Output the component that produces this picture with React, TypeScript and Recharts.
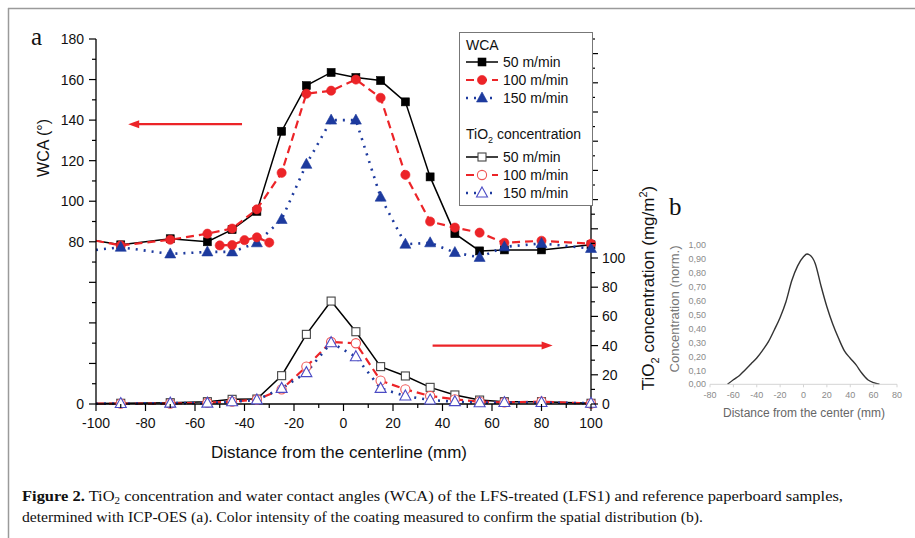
import React from 'react';
import { ComposedChart, LineChart, Line, XAxis, YAxis, Legend, ReferenceLine } from 'recharts';

// panel a: sample positions across the web (mm)
const distance = [-100, -90, -70, -55, -45, -35, -25, -15, -5, 5, 15, 25, 35, 45, 55, 65, 80, 100];

// water contact angle (deg), left axis
const wca50 = [80.5, 78.5, 81.5, 80, 86, 95, 134.5, 157, 163.5, 161, 159.5, 149, 112, 84, 75.5, 76, 76, 78.5];
const wca100 = [80.5, 78.2, 81, 84, 86.5, 96, 114, 153, 154.5, 160, 151, 113, 90, 87, 84.5, 79.5, 80.5, 79];
const wca150 = [76, 77.3, 74, 75, 75, 79.5, 91, 118.2, 140, 140, 102, 78.8, 79.5, 74.7, 72.3, 77.5, 79.2, 76.7];

// second 100 m/min run near the left edge
const repeatDistance = [-50, -45, -40, -35, -30];
const wca100Repeat = [78.2, 78.4, 80.8, 82.2, 79.6];

// TiO2 concentration (mg/m2), right axis
const tio50 = [0.3, 0.5, 0.9, 1.6, 3.2, 3.4, 19.4, 47.7, 70.5, 49.5, 25.6, 19.2, 11.4, 6.2, 2.7, 1.6, 1.6, 0.5];
const tio100 = [0.2, 0.3, 0.3, 0.9, 1.6, 3, 10, 25.6, 42.5, 41.6, 16, 10, 5.5, 3.2, 1.6, 1.1, 1.6, 0.3];
const tio150 = [0.2, 0.3, 0.6, 0.6, 1.5, 2.8, 10.7, 21.5, 42, 32.4, 10.7, 5.5, 2.7, 1.6, 0.9, 1, 1, 0.5];

// panel b: normalised colour intensity
const bDistance = [-65, -60, -55, -50, -45, -40, -35, -30, -25, -20, -15, -10, -5, 0, 3, 5, 10, 15, 20, 25, 30, 35, 40, 45, 50, 55, 60, 65];
const bConcentration = [0, 0.033, 0.062, 0.103, 0.146, 0.189, 0.244, 0.306, 0.39, 0.48, 0.593, 0.745, 0.85, 0.915, 0.935, 0.93, 0.868, 0.706, 0.557, 0.433, 0.33, 0.24, 0.187, 0.139, 0.079, 0.033, 0.012, 0];

const xTicks = [-100, -90, -80, -70, -60, -50, -40, -30, -20, -10, 0, 10, 20, 30, 40, 50, 60, 70, 80, 90, 100];
const wcaTicks = [0, 10, 20, 30, 40, 50, 60, 70, 80, 90, 100, 110, 120, 130, 140, 150, 160, 170, 180];
const tioTicks = [0, 10, 20, 30, 40, 50, 60, 70, 80, 90, 100, 110, 120, 130, 140, 150, 160, 170, 180, 190, 200, 210, 220, 230, 240, 250];
const bXTicks = [-80, -60, -40, -20, 0, 20, 40, 60, 80];
const bYTicks = [0, 0.1, 0.2, 0.3, 0.4, 0.5, 0.6, 0.7, 0.8, 0.9, 1];

const FONT = '"Liberation Sans", Arial, sans-serif';
const SERIF = '"Liberation Serif", "Times New Roman", serif';
const RED = '#ec2428';
const BLUE = '#1d3a9e';

type Mark = 'square' | 'circle' | 'triangle';
interface Series {
  key: string;
  axis: 'wca' | 'tio';
  color: string;
  markColor: string;
  width: number;
  dash?: string;
  mark: Mark;
  filled: boolean;
  label: string;
}

const wcaSeries: Series[] = [
  { key: 'wca50', axis: 'wca', color: '#000', markColor: '#000', width: 1.5, mark: 'square', filled: true, label: '50 m/min' },
  { key: 'wca100', axis: 'wca', color: RED, markColor: RED, width: 2.2, dash: '8 5', mark: 'circle', filled: true, label: '100 m/min' },
  { key: 'wca150', axis: 'wca', color: BLUE, markColor: BLUE, width: 2.6, dash: '2 6', mark: 'triangle', filled: true, label: '150 m/min' },
];
const tioSeries: Series[] = [
  { key: 'tio50', axis: 'tio', color: '#000', markColor: '#444', width: 1.5, mark: 'square', filled: false, label: '50 m/min' },
  { key: 'tio100', axis: 'tio', color: RED, markColor: '#f05555', width: 2.2, dash: '8 5', mark: 'circle', filled: false, label: '100 m/min' },
  { key: 'tio150', axis: 'tio', color: BLUE, markColor: '#4b4bc4', width: 2.6, dash: '2 6', mark: 'triangle', filled: false, label: '150 m/min' },
];
const repeatSeries: Series = { ...wcaSeries[1], key: 'wca100b' };

// merge everything into one table keyed by position
const rows: any[] = distance.map((x, i) => ({
  x,
  wca50: wca50[i],
  wca100: wca100[i],
  wca150: wca150[i],
  tio50: tio50[i],
  tio100: tio100[i],
  tio150: tio150[i],
}));
repeatDistance.forEach((x, i) => {
  const row = rows.find(r => r.x === x);
  if (row) row.wca100b = wca100Repeat[i];
  else rows.push({ x, wca100b: wca100Repeat[i] });
});
rows.sort((a, b) => a.x - b.x);

const bRows = bDistance.map((x, i) => ({ x, c: bConcentration[i] }));

function drawMark(mark: Mark, cx: number, cy: number, color: string, filled: boolean) {
  const fill = filled ? color : '#fff';
  const sw = filled ? 0.6 : 1.1;
  if (mark === 'square') return <rect x={cx - 4} y={cy - 4} width={8} height={8} fill={fill} stroke={color} strokeWidth={sw} />;
  if (mark === 'circle') return <circle cx={cx} cy={cy} r={4.6} fill={fill} stroke={color} strokeWidth={sw} />;
  return <polygon points={`${cx},${cy - 6} ${cx + 5.5},${cy + 4} ${cx - 5.5},${cy + 4}`} fill={fill} stroke={color} strokeWidth={sw} />;
}

const dotFor = (s: Series) => (p: any) => {
  const key = `${s.key}-${p.index}`;
  const v = p.payload ? p.payload[s.key] : null;
  // the first position sits on the frame edge and carries no marker
  if (p.cx == null || p.cy == null || v == null || p.payload.x <= -100) return <g key={key} />;
  return <g key={key}>{drawMark(s.mark, p.cx, p.cy, s.markColor, s.filled)}</g>;
};

const LeftTick = (props: any) => {
  const { x, y, payload } = props;
  const v = payload.value;
  const major = v % 20 === 0;
  const len = major ? 7 : 4;
  return (
    <g>
      <line x1={x} x2={x - len} y1={y} y2={y} stroke="#000" strokeWidth={1.2} />
      {major && (v === 0 || v >= 80) && (
        <text x={x - 12} y={y + 5} textAnchor="end" fontSize={14} fontFamily={FONT} fill="#111">{v}</text>
      )}
    </g>
  );
};

const RightTick = (props: any) => {
  const { x, y, payload } = props;
  const v = payload.value;
  const major = v % 20 === 0;
  const len = major ? 7 : 4;
  return (
    <g>
      <line x1={x} x2={x + len} y1={y} y2={y} stroke="#000" strokeWidth={1.2} />
      {major && v <= 100 && (
        <text x={x + 11} y={y + 5} textAnchor="start" fontSize={14} fontFamily={FONT} fill="#111">{v}</text>
      )}
    </g>
  );
};

const BottomTick = (props: any) => {
  const { x, y, payload } = props;
  const v = payload.value;
  const major = v % 20 === 0;
  const len = major ? 7 : 4;
  return (
    <g>
      <line x1={x} x2={x} y1={y} y2={y + len} stroke="#000" strokeWidth={1.2} />
      {major && (
        <text x={x} y={y + 24} textAnchor="middle" fontSize={14} fontFamily={FONT} fill="#111">{v}</text>
      )}
    </g>
  );
};

const Arrow = (props: any) => {
  const { x1, y1, x2, y2 } = props;
  const dir = x2 > x1 ? 1 : -1;
  const tip = x2;
  return (
    <g>
      <line x1={x1} y1={y1} x2={tip - dir * 8} y2={y2} stroke={RED} strokeWidth={2.4} />
      <polygon points={`${tip},${y2} ${tip - dir * 11},${y2 - 4} ${tip - dir * 11},${y2 + 4}`} fill={RED} />
    </g>
  );
};

const LegendRow = ({ s, y }: { s: Series; y: number }) => (
  <g>
    <line x1={7} x2={39} y1={y} y2={y} stroke={s.color} strokeWidth={s.width} strokeDasharray={s.dash} />
    {drawMark(s.mark, 23, y, s.markColor, s.filled)}
    <text x={44} y={y + 5} fontSize={14} fontFamily={FONT} fill="#111">{s.label}</text>
  </g>
);

const LegendBox = () => (
  <svg width={134} height={174} style={{ display: 'block' }}>
    <rect x={0.5} y={0.5} width={133} height={173} fill="#fff" stroke="#777" />
    <text x={7} y={18} fontSize={14} fontFamily={FONT} fill="#111">WCA</text>
    {wcaSeries.map((s, i) => <LegendRow key={s.key} s={s} y={30 + i * 18} />)}
    <text x={7} y={107} fontSize={14} fontFamily={FONT} fill="#111">
      TiO<tspan dy={4} fontSize={9}>2</tspan><tspan dy={-4}> concentration</tspan>
    </text>
    {tioSeries.map((s, i) => <LegendRow key={s.key} s={s} y={125 + i * 18} />)}
  </svg>
);

const renderLine = (s: Series) => (
  <Line
    key={s.key}
    yAxisId={s.axis}
    dataKey={s.key}
    type="linear"
    stroke={s.color}
    strokeWidth={s.width}
    strokeDasharray={s.dash}
    dot={dotFor(s)}
    activeDot={false}
    connectNulls
    isAnimationActive={false}
    legendType="none"
  />
);

const Overlay = () => (
  <svg width={915} height={538} style={{ position: 'absolute', left: 0, top: 0, pointerEvents: 'none' }}>
    <line x1={8} x2={915} y1={8.5} y2={8.5} stroke="#9a9a9a" strokeWidth={1.5} />
    <line x1={8.5} x2={8.5} y1={8} y2={538} stroke="#9a9a9a" strokeWidth={1.5} />
    <text x={31} y={45} fontSize={25} fontFamily={SERIF} fill="#111">a</text>
    <text x={669} y={215} fontSize={25} fontFamily={SERIF} fill="#111">b</text>
    <text transform="translate(49,148) rotate(-90)" textAnchor="middle" fontSize={16} fontFamily={FONT} fill="#111">WCA (°)</text>
    <text transform="translate(654,288) rotate(-90)" textAnchor="middle" fontSize={17} fontFamily={FONT} fill="#111">
      TiO<tspan dy={5} fontSize={11}>2</tspan><tspan dy={-5}> concentration (mg/m</tspan><tspan dy={-7} fontSize={11}>2</tspan><tspan dy={7}>)</tspan>
    </text>
    <text x={339} y={458} textAnchor="middle" fontSize={17} fontFamily={FONT} fill="#111">Distance from the centerline (mm)</text>
    <text transform="translate(679,309) rotate(-90)" textAnchor="middle" fontSize={12} fontFamily={FONT} fill="#777" textLength={127} lengthAdjust="spacingAndGlyphs">Concentration (norm.)</text>
    <text x={804} y={417} textAnchor="middle" fontSize={12} fontFamily={FONT} fill="#666">Distance from the center (mm)</text>
    <text x={22} y={501} fontSize={15} fontFamily={SERIF} fill="#111" textLength={821} lengthAdjust="spacingAndGlyphs">
      <tspan fontWeight="bold">Figure 2.</tspan> TiO<tspan dy={3} fontSize={10}>2</tspan><tspan dy={-3}> concentration and water contact angles (WCA) of the LFS-treated (LFS1) and reference paperboard samples,</tspan>
    </text>
    <text x={22} y={522} fontSize={15} fontFamily={SERIF} fill="#111" textLength={681} lengthAdjust="spacingAndGlyphs">
      determined with ICP-OES (a). Color intensity of the coating measured to confirm the spatial distribution (b).
    </text>
  </svg>
);

export default function App() {
  return (
    <div style={{ position: 'absolute', left: 0, top: 0, width: 915, height: 538, background: '#fff', overflow: 'hidden' }}>
      <div style={{ position: 'absolute', left: 0, top: 0 }}>
        <ComposedChart width={700} height={480} data={rows} margin={{ top: 39, left: 46, right: 59, bottom: 46 }}>
          <XAxis
            dataKey="x"
            type="number"
            domain={[-100, 100]}
            ticks={xTicks}
            interval={0}
            height={30}
            tickSize={0}
            tickMargin={0}
            tickLine={false}
            tick={<BottomTick />}
            axisLine={{ stroke: '#000', strokeWidth: 1.3 }}
          />
          <YAxis
            yAxisId="wca"
            orientation="left"
            type="number"
            domain={[0, 180]}
            ticks={wcaTicks}
            interval={0}
            width={50}
            tickSize={0}
            tickMargin={0}
            tickLine={false}
            tick={<LeftTick />}
            axisLine={{ stroke: '#000', strokeWidth: 1.3 }}
          />
          <YAxis
            yAxisId="tio"
            orientation="right"
            type="number"
            domain={[0, 250]}
            ticks={tioTicks}
            interval={0}
            width={50}
            tickSize={0}
            tickMargin={0}
            tickLine={false}
            tick={<RightTick />}
            axisLine={{ stroke: '#000', strokeWidth: 1.3 }}
          />
          <ReferenceLine yAxisId="wca" segment={[{ x: -41, y: 138 }, { x: -87, y: 138 }]} shape={Arrow} />
          <ReferenceLine yAxisId="tio" segment={[{ x: 36, y: 40 }, { x: 84.5, y: 40 }]} shape={Arrow} />
          {wcaSeries.map(renderLine)}
          {renderLine(repeatSeries)}
          {tioSeries.map(renderLine)}
          <Legend
            layout="vertical"
            align="center"
            verticalAlign="middle"
            content={() => <LegendBox />}
            wrapperStyle={{ position: 'absolute', left: 459, top: 32, width: 134, height: 174 }}
          />
        </ComposedChart>
      </div>
      <div style={{ position: 'absolute', left: 660, top: 220 }}>
        <LineChart width={255} height={215} data={bRows} margin={{ top: 25, left: 10, right: 18, bottom: 30.7 }}>
          <XAxis
            dataKey="x"
            type="number"
            domain={[-80, 80]}
            ticks={bXTicks}
            interval={0}
            height={20}
            tickSize={3}
            tickMargin={4}
            stroke="#d4d4d4"
            tick={{ fill: '#8a8a8a', fontSize: 9, fontFamily: FONT }}
          />
          <YAxis
            type="number"
            domain={[0, 1]}
            ticks={bYTicks}
            interval={0}
            width={40}
            tickSize={0}
            tickMargin={4}
            axisLine={false}
            tickLine={false}
            tickFormatter={(v: number) => v.toFixed(2).replace('.', ',')}
            tick={{ fill: '#8a8a8a', fontSize: 9, fontFamily: FONT }}
          />
          <Line dataKey="c" type="monotone" stroke="#333" strokeWidth={1.4} dot={false} activeDot={false} isAnimationActive={false} />
        </LineChart>
      </div>
      <Overlay />
    </div>
  );
}
